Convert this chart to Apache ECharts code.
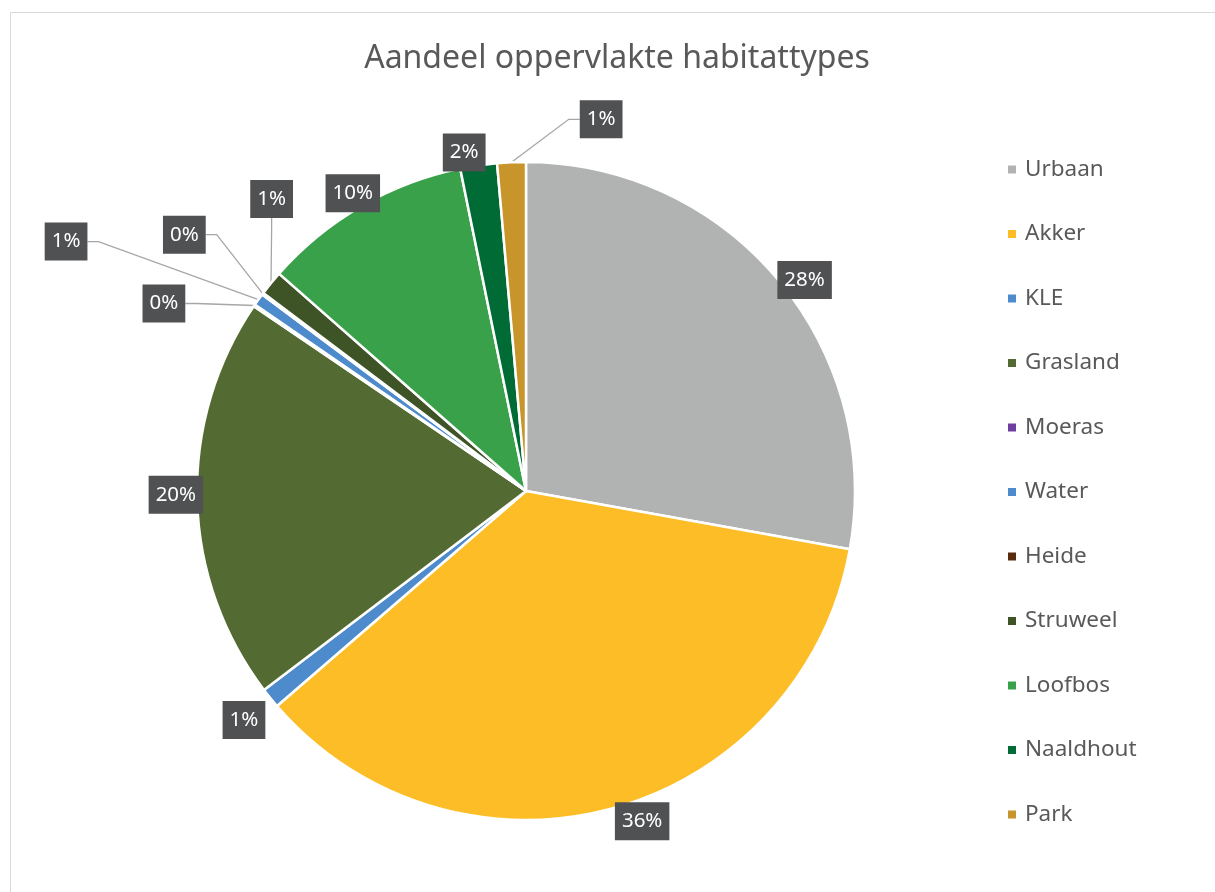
<!DOCTYPE html>
<html>
<head>
<meta charset="utf-8">
<title>Aandeel oppervlakte habitattypes</title>
<script src="https://cdn.jsdelivr.net/npm/echarts@6/dist/echarts.min.js"></script>
<style>
  html, body { margin: 0; padding: 0; background: #fff; }
  #chart { width: 1215px; height: 892px; }
</style>
</head>
<body>
<div id="chart"></div>
<script>
// habitattypes en hun aandeel (geschat uit de figuur, in %)
const habitats = ['Urbaan', 'Akker', 'KLE', 'Grasland', 'Moeras', 'Water', 'Heide', 'Struweel', 'Loofbos', 'Naaldhout', 'Park'];
const shares = [27.8, 35.8, 1.0, 19.8, 0.1, 0.6, 0.1, 1.2, 10.3, 1.8, 1.4];
const colors = ['#B1B3B3', '#FDBD26', '#4D8BCC', '#536B32', '#6E3FA0', '#4D8BCC', '#5A2A0C', '#3F5426', '#38A14A', '#006B35', '#C7952A'];

// kleine stukken krijgen een verbindingslijn
const withLine = [false, false, false, false, true, true, true, true, false, false, true];
// verschuiving van de labels t.o.v. de standaardpositie (zoals in Excel)
const labelShift = [
  [-1, 0], [2, 13], [-5, 22], [6, -5],
  [-58, -2], [-160, -58], [-46, -59], [33, -84],
  [19, -13], [7, -13], [122, -43]
];

const FONT = '"Noto Sans", "Open Sans", sans-serif';

const chart = echarts.init(document.getElementById('chart'));

const pieData = habitats.map((name, i) => ({
  name: name,
  value: shares[i],
  itemStyle: { color: colors[i] },
  labelLine: withLine[i]
    ? { show: true, length: 0, length2: 11 }
    : { show: false, length: 0, length2: 0 }
}));

const option = {
  backgroundColor: '#fff',
  color: colors,
  title: {
    text: 'Aandeel oppervlakte habitattypes',
    left: 612,
    top: 38,
    textAlign: 'center',
    textStyle: {
      fontFamily: FONT,
      fontSize: 32,
      fontWeight: 'normal',
      color: '#595959'
    }
  },
  legend: {
    orient: 'vertical',
    left: 1001,
    top: 153,
    itemWidth: 10,
    itemHeight: 10,
    itemGap: 41.5,
    icon: 'rect',
    data: habitats,
    textStyle: {
      fontFamily: FONT,
      fontSize: 22.5,
      color: '#595959',
      padding: [0, 0, 0, 3]
    }
  },
  graphic: [{
    type: 'rect',
    shape: { x: 10.5, y: 12.5, width: 1400, height: 1000 },
    style: { fill: 'none', stroke: '#D9D9D9', lineWidth: 1 },
    silent: true
  }],
  series: [{
    type: 'pie',
    center: [526, 491],
    radius: 329,
    startAngle: 90,
    clockwise: true,
    avoidLabelOverlap: false,
    itemStyle: { borderColor: '#fff', borderWidth: 2.5 },
    label: {
      show: true,
      position: 'outside',
      distanceToLabelLine: 0,
      formatter: p => Math.round(p.percent) + '%',
      fontFamily: FONT,
      fontSize: 20.5,
      color: '#fff',
      backgroundColor: '#505153',
      padding: [8, 7, 7, 7],
      lineHeight: 23
    },
    labelLine: {
      lineStyle: { color: '#A6A6A6', width: 1.3 },
      minTurnAngle: 0
    },
    labelLayout: function (p) {
      const s = labelShift[p.dataIndex];
      const r = p.labelRect;
      const ax = p.align === 'right' ? r.x + r.width : (p.align === 'center' ? r.x + r.width / 2 : r.x);
      const ay = r.y + r.height / 2;
      return { x: ax + s[0], y: ay + s[1] };
    },
    emphasis: { disabled: true },
    data: pieData
  }]
};

chart.setOption(option);
</script>
</body>
</html>
